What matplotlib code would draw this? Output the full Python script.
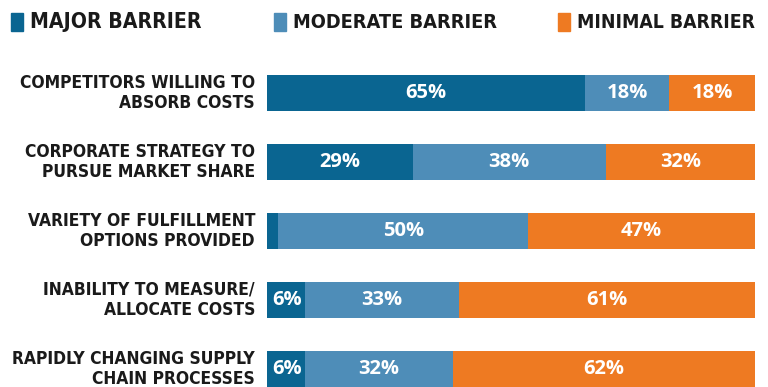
import numpy as np
import matplotlib.pyplot as plt
from matplotlib.patches import Rectangle
from matplotlib import font_manager

categories = [
    "COMPETITORS WILLING TO\nABSORB COSTS",
    "CORPORATE STRATEGY TO\nPURSUE MARKET SHARE",
    "VARIETY OF FULFILLMENT\nOPTIONS PROVIDED",
    "INABILITY TO MEASURE/\nALLOCATE COSTS",
    "RAPIDLY CHANGING SUPPLY\nCHAIN PROCESSES",
]
series_names = ["MAJOR BARRIER", "MODERATE BARRIER", "MINIMAL BARRIER"]
# segment widths (percent of respondents)
major = [65.2, 29.9, 2.3, 7.8, 7.8]
moderate = [17.2, 39.5, 51.2, 31.6, 30.3]
minimal = [17.6, 30.6, 46.5, 60.6, 61.9]
# printed labels
shown_major = ["65%", "29%", "", "6%", "6%"]
shown_moderate = ["18%", "38%", "50%", "33%", "32%"]
shown_minimal = ["18%", "32%", "47%", "61%", "62%"]

colors = ["#0a6591", "#4e8db8", "#ee7a22"]

# pick a narrow bold face if one is around
names = {f.name for f in font_manager.fontManager.ttflist}
files = [f.fname for f in font_manager.fontManager.ttflist]
stretch = "normal"
if "Liberation Sans Narrow" in names:
    label_font = "Liberation Sans Narrow"
elif any("Condensed-Bold" in f and "DejaVu" in f for f in files):
    label_font = "DejaVu Sans"
    stretch = "condensed"
else:
    label_font = "Lato"

W, H = 768, 387
fig = plt.figure(figsize=(W / 100, H / 100), dpi=100)
renderer = fig.canvas.get_renderer()


def fit_width(txt, target_px):
    w = txt.get_window_extent(renderer).width
    txt.set_fontsize(txt.get_fontsize() * target_px / w)


# bars span x 267..755 px
ax = fig.add_axes([267 / W, 0, (755 - 267) / W, (H - 58.5) / H])
ax.set_xlim(0, 100)
ax.set_ylim(4.26, -0.5)
ax.axis("off")

data = [major, moderate, minimal]
texts = [shown_major, shown_moderate, shown_minimal]

y = np.arange(len(categories))
left = np.zeros(len(categories))
for k in range(3):
    ax.barh(y, data[k], left=left, height=0.53, color=colors[k], linewidth=0)
    for i in range(len(categories)):
        if texts[k][i]:
            if data[k][i] < 10:
                xt, ha = left[i] + 1.0, "left"
            else:
                xt, ha = left[i] + data[k][i] / 2, "center"
            ax.text(xt, y[i], texts[k][i], color="white", ha=ha, va="center",
                    fontsize=14.5, fontfamily="Open Sans", fontweight="bold")
    left += np.array(data[k])

lbls = []
for i, c in enumerate(categories):
    t = ax.text(-12 / 488, y[i], c, transform=ax.get_yaxis_transform(), ha="right",
                va="center", fontsize=14, fontweight="bold", family=label_font,
                fontstretch=stretch, color="#1a1a1a", linespacing=1.15,
                multialignment="right")
    lbls.append(t)
# scale label size so the longest line spans like the reference
probe = fig.text(0, 0, "RAPIDLY CHANGING SUPPLY", fontsize=14, fontweight="bold",
                 family=label_font, fontstretch=stretch)
fit_width(probe, 244)
size = probe.get_fontsize()
probe.remove()
for t in lbls:
    t.set_fontsize(size)

# legend across the top
leg_x = [11, 274, 558]
leg_w = [172, 205, 178]
for k in range(3):
    fig.patches.append(Rectangle((leg_x[k] / W, 1 - 31 / H), 12 / W, 18 / H,
                                 transform=fig.transFigure, color=colors[k]))
    t = fig.text((leg_x[k] + 19) / W, 1 - 22 / H, series_names[k], ha="left",
                 va="center", fontsize=16, fontweight="bold", family=label_font,
                 fontstretch=stretch, color="#1a1a1a")
    fit_width(t, leg_w[k])

fig.savefig("out.png", dpi=100)
